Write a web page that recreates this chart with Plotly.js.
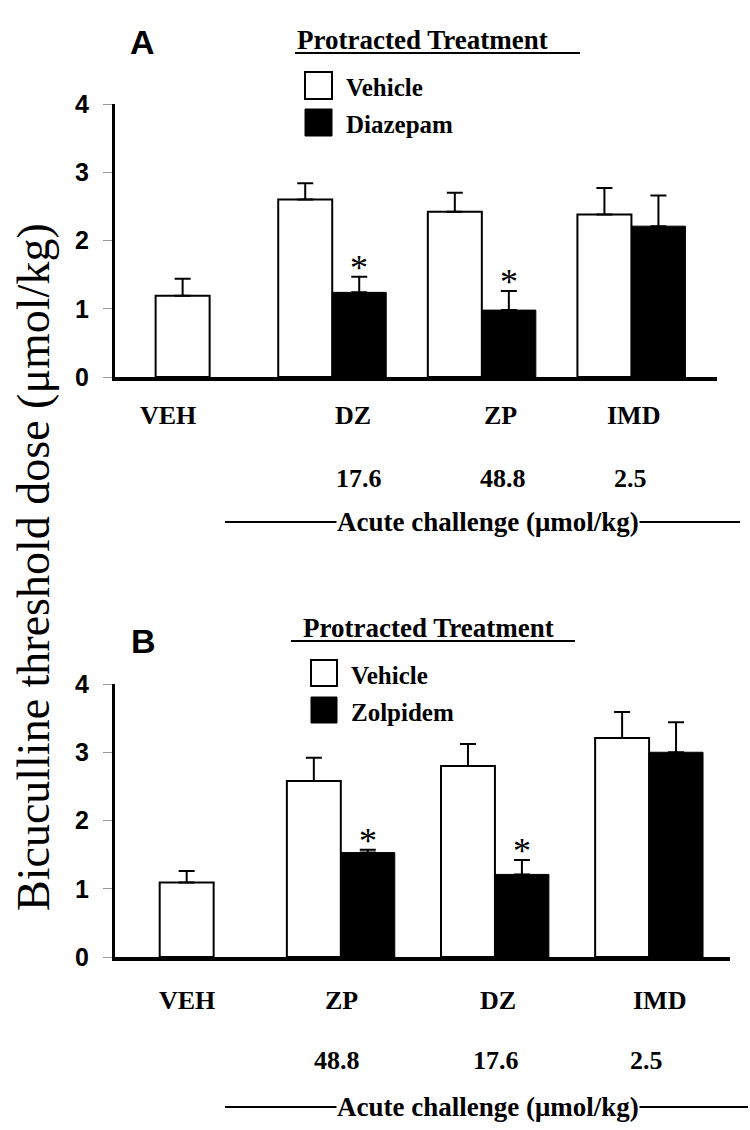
<!DOCTYPE html>
<html><head><meta charset="utf-8">
<script src="https://cdn.plot.ly/plotly-3.0.1.min.js"></script>
<style>html,body{margin:0;padding:0;background:#fff}</style>
</head><body><div id="chart" style="width:750px;height:1130px"></div>
<script>
// ---------- Data: Panel A ----------
const catsA = ['VEH', 'DZ', 'ZP', 'IMD'];
const dosesA = ['', '17.6', '48.8', '2.5'];
const vehicleA = [1.19, 2.60, 2.42, 2.38];
const vehicleErrA = [0.25, 0.24, 0.28, 0.39];
const diazepamA = [null, 1.24, 0.98, 2.21];
const diazepamErrA = [null, 0.23, 0.28, 0.45];
const sigA = ['', '*', '*', ''];
// ---------- Data: Panel B ----------
const catsB = ['VEH', 'ZP', 'DZ', 'IMD'];
const dosesB = ['', '48.8', '17.6', '2.5'];
const vehicleB = [1.09, 2.58, 2.80, 3.21];
const vehicleErrB = [0.17, 0.34, 0.32, 0.38];
const zolpidemB = [null, 1.53, 1.21, 3.00];
const zolpidemErrB = [null, 0.04, 0.21, 0.44];
const sigB = ['', '*', '*', ''];

const yTitle = 'Bicuculline threshold dose (\u03bcmol/kg)';
const panelTitle = 'Protracted Treatment';
const xGroupTitle = 'Acute challenge (\u03bcmol/kg)';

// ---------- Layout helpers ----------
const W = 750, H = 1130;
const px = p => p / W;
const py = p => 1 - p / H;
const SERIF = 'Liberation Serif, Times New Roman, serif';
const SANS = 'Liberation Sans, Arial, sans-serif';

const panels = [
  {key: '', cats: catsA, doses: dosesA, veh: vehicleA, vehErr: vehicleErrA, drug: diazepamA, drugErr: diazepamErrA,
   sig: sigA, drugName: 'Diazepam', letter: 'A',
   xdom: [115, 717], ydom: [104, 377], range: [-0.452, 3.572], w: 0.361,
   labShift: [-15, 21, 19, 2], doseShift: [0, 27, 21, -1], labY: 415, doseY: 478, acuteY: 522, acuteX: [225, 740],
   letterPos: [142, 42], titlePos: [422, 40], underline: [295, 580, 53], legBox: [305, 332, 72, 99, 109, 136]},
  {key: '2', cats: catsB, doses: dosesB, veh: vehicleB, vehErr: vehicleErrB, drug: zolpidemB, drugErr: zolpidemErrB,
   sig: sigB, drugName: 'Zolpidem', letter: 'B',
   xdom: [115, 730], ydom: [684, 957], range: [-0.465, 3.525], w: 0.35,
   labShift: [0, 1, 3, 10], doseShift: [0, -4, 1, -3], labY: 1000, doseY: 1060, acuteY: 1107, acuteX: [225, 748],
   letterPos: [143, 641], titlePos: [428, 628], underline: [291, 575, 641], legBox: [311, 337, 660, 686, 697, 723]}
];

const data = [];
const layout = {
  width: W, height: H, margin: {l: 0, r: 0, t: 0, b: 0},
  paper_bgcolor: '#fff', plot_bgcolor: '#fff', showlegend: false, barmode: 'overlay',
  annotations: [], shapes: []
};

panels.forEach(P => {
  const xa = 'x' + P.key, ya = 'y' + P.key;
  const w = P.w;
  const vehOffset = P.drug.map(v => v === null ? -w / 2 : -w);
  data.push({
    type: 'bar', name: 'Vehicle', x: P.cats, y: P.veh, xaxis: xa, yaxis: ya,
    width: w, offset: vehOffset,
    marker: {color: '#ffffff', line: {color: '#000', width: 2}},
    error_y: {type: 'data', array: P.vehErr, arrayminus: P.vehErr.map(() => 0), symmetric: false,
              color: '#000', thickness: 2, width: 8}
  });
  data.push({
    type: 'bar', name: P.drugName, x: P.cats, y: P.drug, xaxis: xa, yaxis: ya,
    width: w, offset: 0,
    marker: {color: '#000000', line: {color: '#000', width: 1}},
    error_y: {type: 'data', array: P.drugErr, arrayminus: P.drugErr.map(() => 0), symmetric: false,
              color: '#000', thickness: 2, width: 8}
  });

  layout['xaxis' + P.key] = {
    domain: [px(P.xdom[0]), px(P.xdom[1])], anchor: ya, type: 'category', range: P.range,
    showline: true, linecolor: '#000', linewidth: 4, ticks: '', showticklabels: false,
    showgrid: false, zeroline: false, fixedrange: true
  };
  layout['yaxis' + P.key] = {
    domain: [py(P.ydom[1]), py(P.ydom[0])], anchor: xa, range: [0, 4], dtick: 1, tick0: 0,
    showline: true, linecolor: '#000', linewidth: 3, ticks: 'outside', ticklen: 9, tickwidth: 1,
    tickcolor: '#999', ticklabelstandoff: 9,
    tickfont: {family: SANS, size: 25, weight: 'bold', color: '#000'},
    showgrid: false, zeroline: false, fixedrange: true
  };

  // category labels and doses
  P.cats.forEach((c, i) => {
    layout.annotations.push({xref: xa, yref: 'paper', x: i, y: py(P.labY), xshift: P.labShift[i],
      text: c, showarrow: false, xanchor: 'center', yanchor: 'middle',
      font: {family: SERIF, size: 26, weight: 'bold', color: '#000'}});
    if (P.doses[i]) layout.annotations.push({xref: xa, yref: 'paper', x: i, y: py(P.doseY), xshift: P.doseShift[i],
      text: P.doses[i], showarrow: false, xanchor: 'center', yanchor: 'middle',
      font: {family: SERIF, size: 26, weight: 'bold', color: '#000'}});
    if (P.sig[i]) layout.annotations.push({xref: xa, yref: ya, x: i + w / 2, y: P.drug[i] + P.drugErr[i],
      text: P.sig[i], showarrow: false, xanchor: 'center', yanchor: 'bottom', yshift: -13,
      font: {family: SERIF, size: 36, color: '#000'}});
  });

  // acute challenge line + label
  layout.shapes.push({type: 'line', xref: 'paper', yref: 'paper',
    x0: px(P.acuteX[0]), x1: px(P.acuteX[1]), y0: py(P.acuteY), y1: py(P.acuteY),
    line: {color: '#000', width: 2}});
  layout.annotations.push({xref: 'paper', yref: 'paper', x: px(488), y: py(P.acuteY), text: xGroupTitle,
    showarrow: false, xanchor: 'center', yanchor: 'middle', bgcolor: '#fff', borderpad: 0,
    font: {family: SERIF, size: 27, weight: 'bold', color: '#000'}});

  // panel letter
  layout.annotations.push({xref: 'paper', yref: 'paper', x: px(P.letterPos[0]), y: py(P.letterPos[1]),
    text: P.letter, showarrow: false, xanchor: 'center', yanchor: 'middle',
    font: {family: SANS, size: 34, weight: 'bold', color: '#000'}});
  // Protracted Treatment title with underline
  layout.annotations.push({xref: 'paper', yref: 'paper', x: px(P.titlePos[0]), y: py(P.titlePos[1]),
    text: panelTitle, showarrow: false, xanchor: 'center', yanchor: 'middle',
    font: {family: SERIF, size: 27, weight: 'bold', color: '#000'}});
  layout.shapes.push({type: 'line', xref: 'paper', yref: 'paper',
    x0: px(P.underline[0]), x1: px(P.underline[1]), y0: py(P.underline[2]), y1: py(P.underline[2]),
    line: {color: '#000', width: 2}});

  // legend (custom, large swatches)
  const L = P.legBox;
  layout.shapes.push({type: 'rect', xref: 'paper', yref: 'paper', x0: px(L[0]), x1: px(L[1]), y0: py(L[3]), y1: py(L[2]),
    fillcolor: '#fff', line: {color: '#000', width: 2}});
  layout.shapes.push({type: 'rect', xref: 'paper', yref: 'paper', x0: px(L[0]), x1: px(L[1]), y0: py(L[5]), y1: py(L[4]),
    fillcolor: '#000', line: {color: '#000', width: 1}});
  layout.annotations.push({xref: 'paper', yref: 'paper', x: px(L[1] + 12), y: py((L[2] + L[3]) / 2 + 2),
    text: 'Vehicle', showarrow: false, xanchor: 'left', yanchor: 'middle',
    font: {family: SERIF, size: 25, weight: 'bold', color: '#000'}});
  layout.annotations.push({xref: 'paper', yref: 'paper', x: px(L[1] + 12), y: py((L[4] + L[5]) / 2 + 2),
    text: P.drugName, showarrow: false, xanchor: 'left', yanchor: 'middle',
    font: {family: SERIF, size: 25, weight: 'bold', color: '#000'}});
});

// shared y-axis title
layout.annotations.push({xref: 'paper', yref: 'paper', x: px(33), y: py(567), text: yTitle,
  textangle: -90, showarrow: false, xanchor: 'center', yanchor: 'middle',
  font: {family: SERIF, size: 46, color: '#000'}});

Plotly.newPlot('chart', data, layout, {displayModeBar: false, staticPlot: true});
</script>
</body></html>
